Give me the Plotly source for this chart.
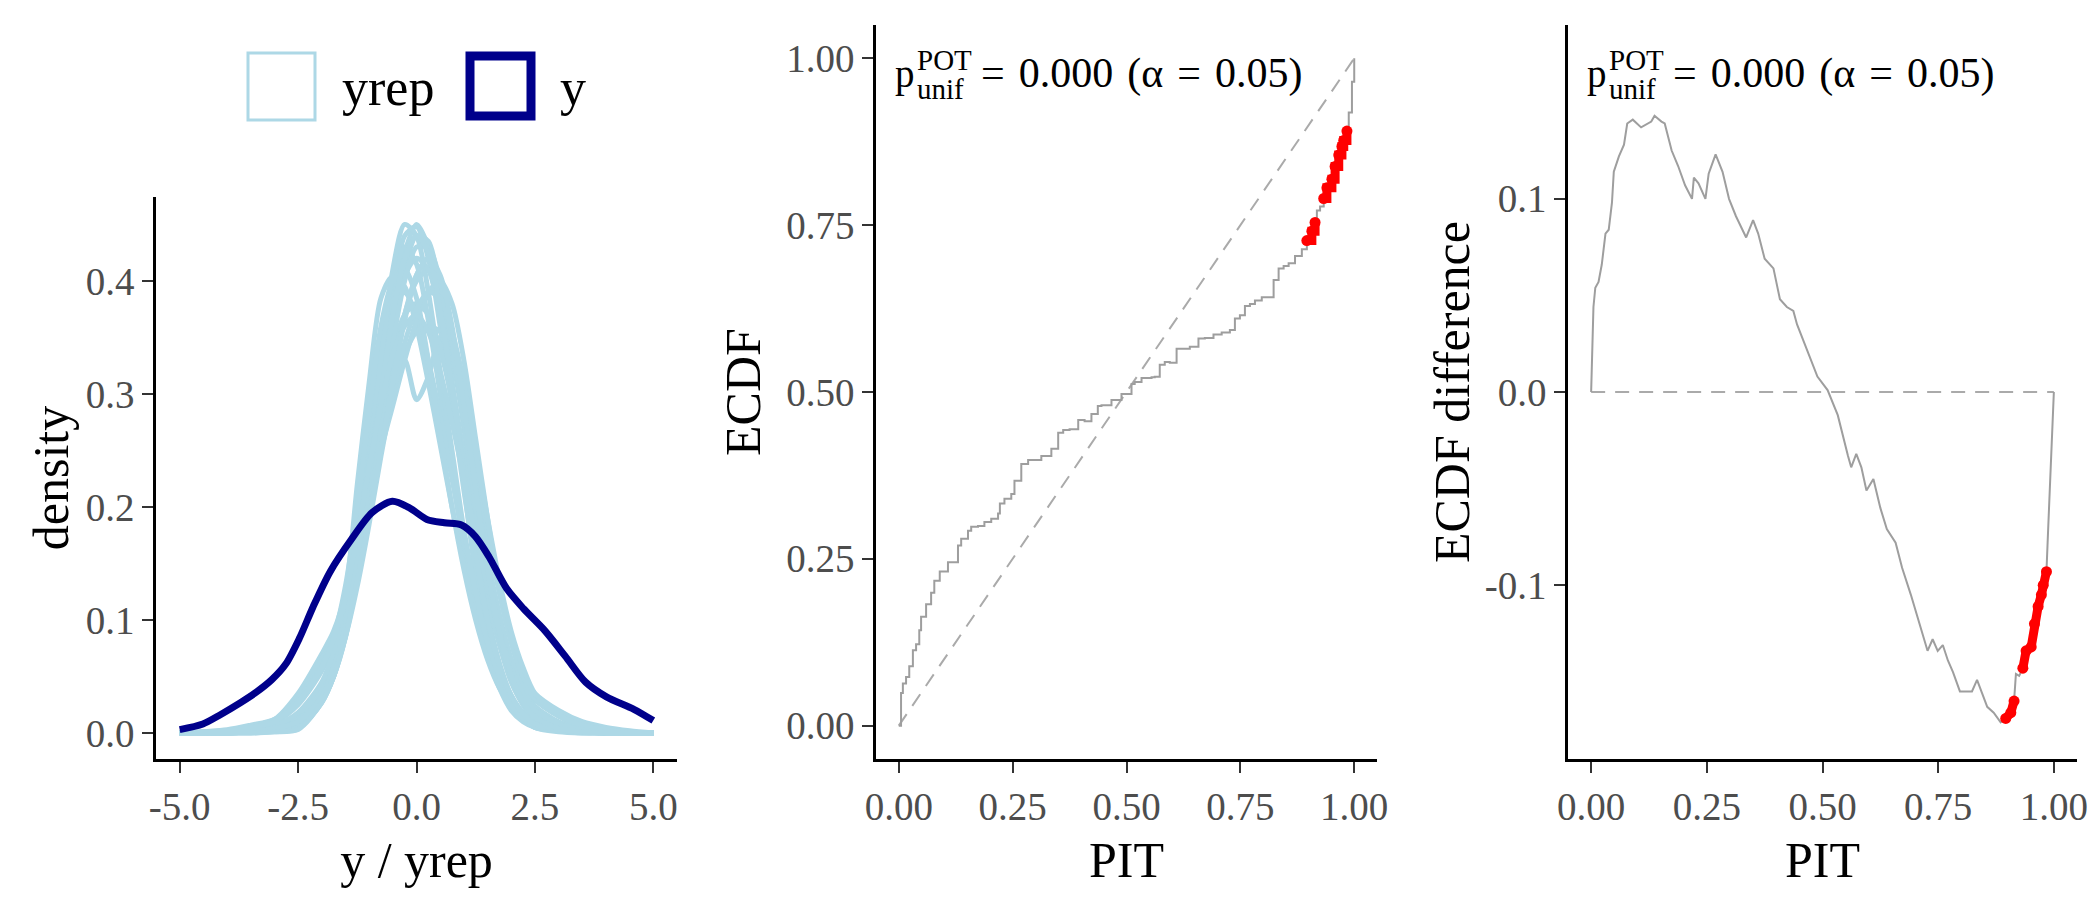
import plotly.graph_objects as go

# ---------------- left panel: density overlay ----------------
grid = [-5, -4, -3.5, -3, -2.5, -2, -1.75, -1.5, -1.25, -1, -0.75, -0.5, -0.25, 0, 0.25,
        0.5, 0.75, 1, 1.25, 1.5, 1.75, 2, 2.25, 2.5, 3, 3.5, 4, 4.5, 5]

yrep_01 = [0, 0.001, 0.002, 0.005, 0.012, 0.035, 0.06, 0.1, 0.16, 0.235, 0.31, 0.385, 0.44, 0.448, 0.42,
           0.36, 0.29, 0.215, 0.15, 0.095, 0.055, 0.03, 0.015, 0.008, 0.003, 0.001, 0.001, 0, 0]
yrep_02 = [0, 0.001, 0.002, 0.004, 0.009, 0.028, 0.05, 0.085, 0.145, 0.215, 0.29, 0.365, 0.425, 0.45, 0.43,
           0.38, 0.31, 0.235, 0.165, 0.105, 0.062, 0.033, 0.017, 0.008, 0.003, 0.001, 0, 0, 0]
yrep_03 = [0, 0.002, 0.006, 0.012, 0.035, 0.07, 0.09, 0.125, 0.22, 0.31, 0.385, 0.404, 0.395, 0.36, 0.31,
           0.255, 0.2, 0.15, 0.11, 0.075, 0.05, 0.03, 0.016, 0.008, 0.003, 0.001, 0, 0, 0]
yrep_04 = [0, 0.001, 0.003, 0.006, 0.015, 0.04, 0.065, 0.1, 0.16, 0.22, 0.275, 0.31, 0.33, 0.295, 0.315,
           0.35, 0.33, 0.27, 0.2, 0.135, 0.085, 0.048, 0.025, 0.012, 0.004, 0.001, 0, 0, 0]
yrep_05 = [0, 0, 0.001, 0.002, 0.005, 0.027, 0.055, 0.09, 0.15, 0.2, 0.26, 0.32, 0.37, 0.405, 0.42,
           0.4, 0.355, 0.3, 0.24, 0.175, 0.125, 0.08, 0.048, 0.03, 0.015, 0.007, 0.003, 0.001, 0]
yrep_06 = [0, 0.002, 0.004, 0.009, 0.025, 0.055, 0.08, 0.115, 0.17, 0.23, 0.29, 0.34, 0.37, 0.38, 0.37,
           0.34, 0.295, 0.245, 0.19, 0.14, 0.1, 0.065, 0.04, 0.024, 0.01, 0.004, 0.002, 0.001, 0]
yrep_07 = [0, 0.001, 0.002, 0.003, 0.008, 0.03, 0.06, 0.105, 0.17, 0.25, 0.33, 0.4, 0.43, 0.415, 0.365,
           0.3, 0.23, 0.165, 0.11, 0.07, 0.04, 0.02, 0.01, 0.005, 0.002, 0, 0, 0, 0]
yrep_08 = [0, 0.001, 0.003, 0.006, 0.012, 0.03, 0.05, 0.09, 0.145, 0.205, 0.265, 0.32, 0.37, 0.4, 0.41,
           0.39, 0.34, 0.28, 0.215, 0.155, 0.105, 0.065, 0.04, 0.022, 0.008, 0.003, 0.001, 0, 0]
yrep_09 = [0, 0, 0.001, 0.002, 0.004, 0.028, 0.058, 0.1, 0.16, 0.22, 0.28, 0.35, 0.41, 0.44, 0.435,
           0.39, 0.31, 0.22, 0.14, 0.085, 0.05, 0.028, 0.013, 0.005, 0.002, 0.001, 0, 0, 0]
yrep_10 = [0, 0.003, 0.007, 0.012, 0.03, 0.065, 0.088, 0.12, 0.18, 0.26, 0.34, 0.385, 0.39, 0.37, 0.33,
           0.28, 0.225, 0.17, 0.125, 0.085, 0.055, 0.033, 0.018, 0.01, 0.004, 0.002, 0.001, 0, 0]
yrep_11 = [0, 0, 0.001, 0.003, 0.008, 0.03, 0.057, 0.092, 0.145, 0.205, 0.255, 0.3, 0.335, 0.355, 0.36,
           0.355, 0.33, 0.29, 0.24, 0.18, 0.125, 0.082, 0.05, 0.035, 0.02, 0.01, 0.005, 0.002, 0]
yrep_12 = [0, 0, 0.001, 0.002, 0.005, 0.03, 0.058, 0.1, 0.165, 0.24, 0.33, 0.41, 0.45, 0.44, 0.39,
           0.32, 0.25, 0.18, 0.125, 0.08, 0.05, 0.028, 0.013, 0.005, 0.001, 0, 0, 0, 0]
yrep_13 = [0, 0.001, 0.003, 0.006, 0.018, 0.045, 0.072, 0.11, 0.165, 0.235, 0.3, 0.36, 0.405, 0.42, 0.41,
           0.37, 0.31, 0.245, 0.18, 0.12, 0.078, 0.045, 0.025, 0.013, 0.005, 0.002, 0.001, 0, 0]
yrep_14 = [0, 0, 0, 0.001, 0.004, 0.027, 0.05, 0.088, 0.145, 0.2, 0.25, 0.29, 0.33, 0.365, 0.39,
           0.4, 0.38, 0.33, 0.26, 0.19, 0.125, 0.08, 0.05, 0.03, 0.015, 0.006, 0.003, 0.001, 0]
yrep_15 = [0, 0.002, 0.005, 0.01, 0.028, 0.06, 0.085, 0.13, 0.2, 0.285, 0.36, 0.4, 0.41, 0.385, 0.33,
           0.265, 0.2, 0.145, 0.1, 0.065, 0.04, 0.024, 0.013, 0.006, 0.002, 0.001, 0, 0, 0]
yrep_16 = [0, 0, 0.001, 0.002, 0.006, 0.029, 0.052, 0.088, 0.14, 0.205, 0.275, 0.345, 0.4, 0.43, 0.43,
           0.4, 0.345, 0.275, 0.2, 0.135, 0.085, 0.05, 0.028, 0.015, 0.006, 0.002, 0.001, 0, 0]
yrep_17 = [0, 0.001, 0.002, 0.004, 0.01, 0.03, 0.052, 0.085, 0.13, 0.185, 0.245, 0.3, 0.345, 0.375, 0.39,
           0.385, 0.355, 0.31, 0.25, 0.19, 0.135, 0.09, 0.058, 0.035, 0.016, 0.007, 0.003, 0.001, 0]
yrep_18 = [0, 0.001, 0.002, 0.004, 0.01, 0.032, 0.058, 0.095, 0.155, 0.225, 0.3, 0.37, 0.42, 0.44, 0.425,
           0.375, 0.305, 0.23, 0.16, 0.1, 0.06, 0.033, 0.017, 0.008, 0.003, 0.001, 0, 0, 0]
yrep_19 = [0, 0.002, 0.005, 0.01, 0.027, 0.058, 0.083, 0.12, 0.175, 0.235, 0.29, 0.335, 0.36, 0.37, 0.355,
           0.32, 0.275, 0.225, 0.175, 0.13, 0.09, 0.058, 0.035, 0.02, 0.008, 0.003, 0.001, 0, 0]
yrep_20 = [0, 0, 0, 0.001, 0.003, 0.027, 0.05, 0.085, 0.135, 0.19, 0.25, 0.31, 0.365, 0.405, 0.42,
           0.405, 0.36, 0.29, 0.215, 0.145, 0.09, 0.052, 0.028, 0.014, 0.004, 0.001, 0, 0, 0]

y_x = [-5.0, -4.51, -4.15, -3.71, -3.42, -3.06, -2.76, -2.47, -2.18, -1.82, -1.38, -0.94, -0.51, -0.14,
       0.22, 0.59, 0.95, 1.24, 1.53, 1.90, 2.26, 2.70, 3.14, 3.57, 4.01, 4.59, 5.0]
y_dens = [0.003, 0.008, 0.016, 0.027, 0.035, 0.047, 0.061, 0.084, 0.112, 0.143, 0.171, 0.195, 0.205, 0.199,
          0.189, 0.186, 0.184, 0.174, 0.156, 0.128, 0.110, 0.091, 0.068, 0.045, 0.032, 0.021, 0.011]

# ---------------- PIT ECDF panels ----------------
pit = [0, 0.005, 0.009, 0.016, 0.023, 0.031, 0.038, 0.045, 0.049, 0.060, 0.071, 0.078, 0.090, 0.108,
       0.130, 0.137, 0.152, 0.159, 0.174, 0.188, 0.203, 0.218, 0.222, 0.232, 0.247, 0.254, 0.269, 0.284,
       0.298, 0.313, 0.335, 0.350, 0.361, 0.375, 0.394, 0.408, 0.423, 0.437, 0.445, 0.467, 0.489, 0.511,
       0.518, 0.533, 0.555, 0.562, 0.573, 0.584, 0.595, 0.610, 0.625, 0.639, 0.658, 0.672, 0.691, 0.709,
       0.727, 0.738, 0.749, 0.760, 0.771, 0.782, 0.797, 0.823, 0.834, 0.845, 0.856, 0.870, 0.885, 0.896,
       0.907, 0.914, 0.918, 0.925, 0.933, 0.940, 0.951, 0.958, 0.966, 0.973, 0.977, 0.984, 0.988, 0.995, 1.0]
ecdf_diff = [0, 0.044, 0.054, 0.057, 0.066, 0.082, 0.084, 0.098, 0.114, 0.122, 0.128, 0.139, 0.141, 0.137,
             0.140, 0.143, 0.140, 0.139, 0.125, 0.117, 0.107, 0.100, 0.111, 0.108, 0.100, 0.113, 0.123, 0.114,
             0.100, 0.091, 0.080, 0.089, 0.082, 0.069, 0.064, 0.048, 0.044, 0.042, 0.035, 0.021, 0.008, 0.001,
             -0.003, -0.012, -0.033, -0.039, -0.032, -0.039, -0.051, -0.045, -0.060, -0.071, -0.078, -0.091,
             -0.105, -0.120, -0.134, -0.128, -0.134, -0.131, -0.139, -0.145, -0.155, -0.155, -0.149, -0.156,
             -0.163, -0.166, -0.171, -0.169, -0.166, -0.160, -0.146, -0.147, -0.143, -0.134, -0.132, -0.120,
             -0.111, -0.105, -0.100, -0.093, -0.069, -0.030, 0.0]
ecdf = [p + d for p, d in zip(pit, ecdf_diff)]

# PIT intervals flagged by the POT test
red_from = [0.896, 0.933]
red_to = [0.914, 0.984]

stat_label = "= \u200a0.000 \u200a(\u03b1 \u200a= \u200a0.05)"

W, H = 2100, 900
FONT = "Liberation Serif, Times New Roman, serif"
LIGHT = "#ADD8E6"
DARK = "#00008B"
GREY = "#9E9E9E"


def fx(px):
    return px / W


def fy(py):
    return 1 - py / H


fig = go.Figure()

yrep_all = [yrep_01, yrep_02, yrep_03, yrep_04, yrep_05, yrep_06, yrep_07, yrep_08, yrep_09, yrep_10,
            yrep_11, yrep_12, yrep_13, yrep_14, yrep_15, yrep_16, yrep_17, yrep_18, yrep_19, yrep_20]
for dens in yrep_all:
    fig.add_trace(go.Scatter(x=grid, y=dens, mode="lines", showlegend=False,
                             line=dict(color=LIGHT, width=5, shape="spline", smoothing=0.8),
                             xaxis="x", yaxis="y"))
fig.add_trace(go.Scatter(x=y_x, y=y_dens, mode="lines", showlegend=False,
                         line=dict(color=DARK, width=7, shape="spline", smoothing=0.8),
                         xaxis="x", yaxis="y"))

# middle: ECDF
fig.add_trace(go.Scatter(x=[0, 1], y=[0, 1], mode="lines", showlegend=False,
                         line=dict(color="#AAAAAA", width=2, dash="14px,10px"), xaxis="x2", yaxis="y2"))
fig.add_trace(go.Scatter(x=pit, y=ecdf, mode="lines", showlegend=False,
                         line=dict(color=GREY, width=2, shape="hv"), xaxis="x2", yaxis="y2"))

# right: ECDF difference
fig.add_trace(go.Scatter(x=[0, 1], y=[0, 0], mode="lines", showlegend=False,
                         line=dict(color="#AAAAAA", width=2, dash="14px,10px"), xaxis="x3", yaxis="y3"))
fig.add_trace(go.Scatter(x=pit, y=ecdf_diff, mode="lines", showlegend=False,
                         line=dict(color=GREY, width=2), xaxis="x3", yaxis="y3"))

for lo, hi in zip(red_from, red_to):
    idx = [i for i, p in enumerate(pit) if lo <= p <= hi]
    px_ = [pit[i] for i in idx]
    fig.add_trace(go.Scatter(x=px_, y=[ecdf[i] for i in idx], mode="lines+markers", showlegend=False,
                             line=dict(color="red", width=9, shape="hv"), marker=dict(color="red", size=11),
                             xaxis="x2", yaxis="y2"))
    fig.add_trace(go.Scatter(x=px_, y=[ecdf_diff[i] for i in idx], mode="lines+markers", showlegend=False,
                             line=dict(color="red", width=9), marker=dict(color="red", size=11),
                             xaxis="x3", yaxis="y3"))

axis_style = dict(showline=True, linecolor="black", linewidth=2.5, ticks="outside", ticklen=11,
                  tickwidth=2, tickcolor="#333333", showgrid=False, zeroline=False, automargin=False,
                  tickfont=dict(family=FONT, size=39, color="#4D4D4D"),
                  title_font=dict(family=FONT, size=50, color="black"))

ydom = [fy(759), fy(25)]
fig.update_layout(
    width=W, height=H, margin=dict(l=0, r=0, t=0, b=0),
    paper_bgcolor="white", plot_bgcolor="white", showlegend=False,
    xaxis=dict(axis_style, domain=[fx(156), fx(677)], range=[-5.5, 5.5], anchor="y",
               tickvals=[-5, -2.5, 0, 2.5, 5], ticktext=["-5.0", "-2.5", "0.0", "2.5", "5.0"],
               title=dict(text="y / yrep", standoff=16)),
    yaxis=dict(axis_style, domain=[fy(759), fy(197)], range=[-0.023, 0.4743], anchor="x",
               tickvals=[0, 0.1, 0.2, 0.3, 0.4], ticktext=["0.0", "0.1", "0.2", "0.3", "0.4"],
               title=dict(text="density", standoff=2)),
    xaxis2=dict(axis_style, domain=[fx(876), fx(1377)], range=[-0.05, 1.05], anchor="y2",
                tickvals=[0, 0.25, 0.5, 0.75, 1], ticktext=["0.00", "0.25", "0.50", "0.75", "1.00"],
                title=dict(text="PIT", standoff=16)),
    yaxis2=dict(axis_style, domain=ydom, range=[-0.05, 1.05], anchor="x2",
                tickvals=[0, 0.25, 0.5, 0.75, 1], ticktext=["0.00", "0.25", "0.50", "0.75", "1.00"],
                title=dict(text="ECDF", standoff=10)),
    xaxis3=dict(axis_style, domain=[fx(1568), fx(2077)], range=[-0.05, 1.05], anchor="y3",
                tickvals=[0, 0.25, 0.5, 0.75, 1], ticktext=["0.00", "0.25", "0.50", "0.75", "1.00"],
                title=dict(text="PIT", standoff=16)),
    yaxis3=dict(axis_style, domain=ydom, range=[-0.19, 0.19], anchor="x3",
                tickvals=[-0.1, 0, 0.1], ticktext=["-0.1", "0.0", "0.1"],
                title=dict(text="ECDF difference", standoff=0)),
)

# legend drawn by hand (outlined boxes as in the original)
fig.add_shape(type="rect", xref="paper", yref="paper", x0=fx(248), x1=fx(315), y0=fy(120), y1=fy(53),
              line=dict(color=LIGHT, width=3), fillcolor="white")
fig.add_shape(type="rect", xref="paper", yref="paper", x0=fx(470), x1=fx(531), y0=fy(116), y1=fy(56),
              line=dict(color=DARK, width=9), fillcolor="white")
fig.add_annotation(text="yrep", x=fx(340), y=fy(88), xref="paper", yref="paper", xanchor="left",
                   yanchor="middle", showarrow=False, font=dict(family=FONT, size=52, color="black"))
fig.add_annotation(text="y", x=fx(558), y=fy(88), xref="paper", yref="paper", xanchor="left",
                   yanchor="middle", showarrow=False, font=dict(family=FONT, size=52, color="black"))

# p-value label on both PIT panels
for xr in ["x2", "x3"]:
    for txt, shift, ypx, size in [("p", -6, 74, 39), ("POT", 16, 60, 29), ("unif", 16, 89, 29),
                                  (stat_label, 80, 74, 42)]:
        fig.add_annotation(text=txt, x=0, xref=xr, y=fy(ypx), yref="paper", xshift=shift,
                           xanchor="left", yanchor="middle", showarrow=False,
                           font=dict(family=FONT, size=size, color="black"))

fig.write_html("out.html", config={"displayModeBar": False},
               post_script="document.body.style.margin = '0';")
